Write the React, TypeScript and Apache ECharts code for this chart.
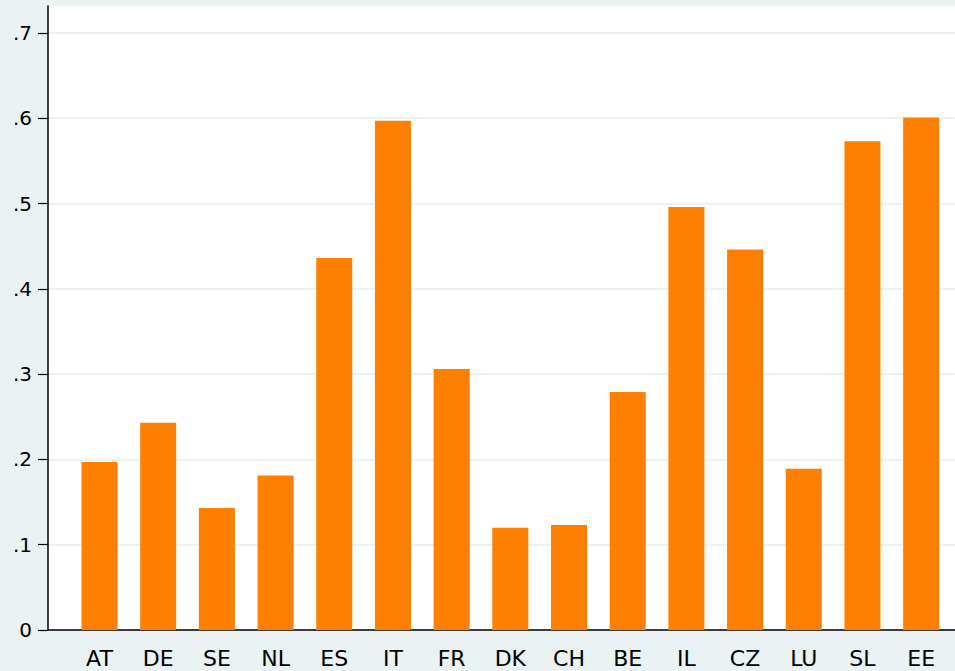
import React, { useEffect, useRef } from "react";
import * as echarts from "echarts";

const categories = ["AT", "DE", "SE", "NL", "ES", "IT", "FR", "DK", "CH", "BE", "IL", "CZ", "LU", "SL", "EE"];
const values = [0.197, 0.243, 0.143, 0.181, 0.436, 0.597, 0.306, 0.12, 0.123, 0.279, 0.496, 0.446, 0.189, 0.573, 0.601];
const yTicks = [0, 0.1, 0.2, 0.3, 0.4, 0.5, 0.6, 0.7];
const yTickLabels = ["0", ".1", ".2", ".3", ".4", ".5", ".6", ".7"];

export default function App() {
  const ref = useRef<HTMLDivElement>(null);
  useEffect(() => {
    if (!ref.current) return;
    const chart = echarts.init(ref.current, undefined, { renderer: "svg" });
    const positions = categories.map((_, i) => i + 1);
    chart.setOption({
      animation: false,
      backgroundColor: "#EAF2F3",
      grid: {
        left: 48,
        right: 0,
        top: 6,
        bottom: 41,
        show: true,
        backgroundColor: "#FFFFFF",
        borderWidth: 0,
        borderColor: "transparent",
      },
      xAxis: {
        type: "value",
        min: 0.1225,
        max: 15.577,
        splitLine: { show: false },
        axisTick: { show: false },
        axisLine: { show: true, onZero: false, lineStyle: { color: "#000", width: 1.5 } },
        axisLabel: {
          customValues: positions,
          formatter: (v: number) => categories[Math.round(v) - 1] ?? "",
          fontFamily: "DejaVu Sans",
          fontSize: 22,
          color: "#000",
          margin: 17,
        },
      },
      yAxis: {
        type: "value",
        min: 0,
        max: 0.7316,
        interval: 0.1,
        axisLine: { show: true, lineStyle: { color: "#000", width: 1.5 } },
        axisTick: {
          show: true,
          length: 10,
          customValues: yTicks,
          lineStyle: { color: "#000", width: 1.2 },
        },
        splitLine: { show: true, lineStyle: { color: "#EAF2F3", width: 2 } },
        axisLabel: {
          customValues: yTicks,
          formatter: (v: number) => {
            const idx = yTicks.findIndex((t) => Math.abs(t - v) < 1e-6);
            return idx >= 0 ? yTickLabels[idx] : "";
          },
          fontFamily: "DejaVu Sans",
          fontSize: 20,
          color: "#000",
          margin: 16,
        },
      },
      series: [
        {
          type: "bar",
          data: positions.map((p, i) => [p, values[i]]),
          barWidth: 36,
          itemStyle: { color: "#FF8000" },
        },
      ],
    });
    return () => chart.dispose();
  }, []);
  return (
    <div
      ref={ref}
      style={{ position: "fixed", left: 0, top: 0, width: 955, height: 671 }}
    />
  );
}
